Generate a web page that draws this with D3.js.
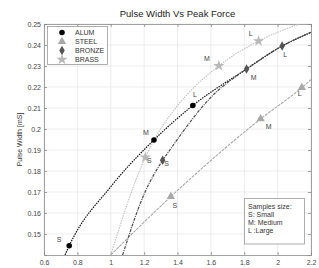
<!DOCTYPE html>
<html>
<head>
<meta charset="utf-8">
<script src="https://cdn.jsdelivr.net/npm/d3@7"></script>
<style>
    body{margin:0;padding:0;background:#fff;}
    svg{display:block;font-family:"Liberation Sans",Arial,sans-serif;}
</style>
</head>
<body>
<svg id="chart" width="319" height="268"></svg>
<script>
/* data */
var xTicks = [0.6,0.8,1,1.2,1.4,1.6,1.8,2,2.2];
var yTicks = [0.15,0.16,0.17,0.18,0.19,0.2,0.21,0.22,0.23,0.24,0.25];
var sizeLabels = ['S','M','L'];
var notes = ['Samples size:','S: Small','M: Medium','L :Large'];

// marked samples (S, M, L)
var alumForce   = [0.751,1.259,1.492];
var alumWidth   = [0.1444,0.1948,0.2112];
var steelForce  = [1.36,1.898,2.145];
var steelWidth  = [0.1678,0.2048,0.2197];
var bronzeForce = [1.311,1.814,2.027];
var bronzeWidth = [0.1851,0.2286,0.2395];
var brassForce  = [1.207,1.648,1.886];
var brassWidth  = [0.1865,0.2301,0.2419];

// traced curves
var alumLineForce   = [0.726,0.751,1.0,1.259,1.492,1.814,2.027,2.2];
var alumLineWidth   = [0.14,0.1444,0.1725,0.1948,0.2112,0.2286,0.2395,0.246];
var steelLineForce  = [1.0,1.36,1.898,2.145,2.2];
var steelLineWidth  = [0.14,0.1678,0.2048,0.2197,0.2235];
var bronzeLineForce = [1.071,1.2,1.311,1.354,1.614,1.814,2.027,2.2];
var bronzeLineWidth = [0.14,0.169,0.1851,0.19,0.2162,0.2286,0.2395,0.246];
var brassLineForce  = [1.0,1.207,1.295,1.395,1.648,1.886,2.13];
var brassLineWidth  = [0.14,0.1865,0.1995,0.2106,0.2301,0.2419,0.25];

var svg = d3.select('#chart');
var pL = 44, pR = 311, pT = 24, pB = 255;

var x = d3.scaleLinear().domain([0.6,2.2]).range([pL,pR]);
var y = d3.scaleLinear().domain([0.14,0.25]).range([pB,pT]);

// grid
svg.append('g').selectAll('line').data(xTicks).join('line')
    .attr('x1',d=>x(d)).attr('x2',d=>x(d)).attr('y1',pT).attr('y2',pB)
    .attr('stroke','#e8e8e8').attr('stroke-width',0.8);
svg.append('g').selectAll('line').data(yTicks).join('line')
    .attr('x1',pL).attr('x2',pR).attr('y1',d=>y(d)).attr('y2',d=>y(d))
    .attr('stroke','#e8e8e8').attr('stroke-width',0.8);

// axes (ticks pointing inward, like matlab)
var fmt = d => String(+d.toFixed(2));
var axB = svg.append('g').attr('transform','translate(0,'+pB+')')
    .call(d3.axisBottom(x).tickValues(xTicks).tickSize(-3).tickPadding(5).tickFormat(fmt));
var axL = svg.append('g').attr('transform','translate('+pL+',0)')
    .call(d3.axisLeft(y).tickValues(yTicks).tickSize(-3).tickPadding(3).tickFormat(fmt));
var axT = svg.append('g').attr('transform','translate(0,'+pT+')')
    .call(d3.axisTop(x).tickValues(xTicks).tickSize(-3).tickFormat(''));
var axR = svg.append('g').attr('transform','translate('+pR+',0)')
    .call(d3.axisRight(y).tickValues(yTicks).tickSize(-3).tickFormat(''));
[axB,axL,axT,axR].forEach(function(a){
    a.selectAll('path,line').attr('stroke','#8a8a8a').attr('stroke-width',0.8);
    a.selectAll('text').attr('fill','#444').style('font-size','7px')
        .style('font-family','"Liberation Sans",Arial,sans-serif');
});

// series
var series = [
    {name:'ALUM', lf:alumLineForce, lw:alumLineWidth, f:alumForce, w:alumWidth,
     line:'#111', dash:'1.5,1', lwid:1.2, fill:'#000', sym:d3.symbolCircle, size:24,
     lab:[[-10,-4],[-8,-5],[2,-8]]},
    {name:'STEEL', lf:steelLineForce, lw:steelLineWidth, f:steelForce, w:steelWidth,
     line:'#a8a8a8', dash:'3,1', lwid:1.1, fill:'#a8a8a8', sym:d3.symbolTriangle, size:30,
     lab:[[4,11],[8,10],[-2,8]]},
    {name:'BRONZE', lf:bronzeLineForce, lw:bronzeLineWidth, f:bronzeForce, w:bronzeWidth,
     line:'#4a4a4a', dash:'3,1,1,1', lwid:1.2, fill:'#555', sym:d3.symbolDiamond, size:26,
     lab:[[4,6],[7,11],[3,11]]},
    {name:'BRASS', lf:brassLineForce, lw:brassLineWidth, f:brassForce, w:brassWidth,
     line:'#c0c0c0', dash:'1.5,1', lwid:1.1, fill:'#b8b8b8', sym:d3.symbolStar, size:40,
     lab:[[4,6],[-12,-5],[-8,-5]]}
];

var line = d3.line().x(d=>x(d[0])).y(d=>y(d[1])).curve(d3.curveMonotoneX);

svg.append('defs').append('clipPath').attr('id','clip')
    .append('rect').attr('x',pL).attr('y',pT).attr('width',pR-pL).attr('height',pB-pT);

var plot = svg.append('g').attr('clip-path','url(#clip)');

series.forEach(function(s){
    plot.append('path')
        .datum(d3.zip(s.lf,s.lw))
        .attr('d',line)
        .attr('fill','none')
        .attr('stroke',s.line)
        .attr('stroke-width',s.lwid)
        .attr('stroke-dasharray',s.dash);
});

series.forEach(function(s){
    var pts = d3.zip(s.f,s.w);
    svg.append('g').selectAll('path').data(pts).join('path')
        .attr('transform',d=>'translate('+x(d[0])+','+y(d[1])+')')
        .attr('d',d3.symbol().type(s.sym).size(s.size))
        .attr('fill',s.fill);
    svg.append('g').selectAll('text').data(pts).join('text')
        .attr('x',(d,i)=>x(d[0])+s.lab[i][0])
        .attr('y',(d,i)=>y(d[1])+s.lab[i][1])
        .attr('text-anchor','middle')
        .attr('fill','#444')
        .style('font-size','7px')
        .text((d,i)=>sizeLabels[i]);
});

// title
svg.append('text')
    .attr('x',(pL+pR)/2).attr('y',17)
    .attr('text-anchor','middle')
    .attr('fill','#222')
    .style('font-size','9.5px')
    .text('Pulse Width Vs Peak Force');

// y label
svg.append('text')
    .attr('transform','translate(22,'+((pT+pB)/2)+') rotate(-90)')
    .attr('text-anchor','middle')
    .attr('fill','#333')
    .style('font-size','7px')
    .text('Pulse Width [mS]');

// legend
var lg = svg.append('g');
lg.append('rect').attr('x',47.5).attr('y',26.5).attr('width',60).attr('height',38)
    .attr('fill','#fff').attr('stroke','#999').attr('stroke-width',0.8);
series.forEach(function(s,i){
    var ly = 32.5 + i*9;
    lg.append('path')
        .attr('transform','translate(62,'+ly+')')
        .attr('d',d3.symbol().type(s.sym).size(s.size))
        .attr('fill',s.fill);
    lg.append('text').attr('x',75).attr('y',ly+2.5)
        .attr('fill','#333').style('font-size','7px').text(s.name);
});

// samples note
var nb = svg.append('g');
nb.append('rect').attr('x',244.5).attr('y',198.5).attr('width',60).attr('height',45.5)
    .attr('fill','#fff').attr('stroke','#999').attr('stroke-width',0.8);
nb.selectAll('text').data(notes).join('text')
    .attr('x',248).attr('y',(d,i)=>208.5+i*8.3)
    .attr('fill','#333').style('font-size','7px')
    .text(d=>d);
</script>
</body>
</html>
